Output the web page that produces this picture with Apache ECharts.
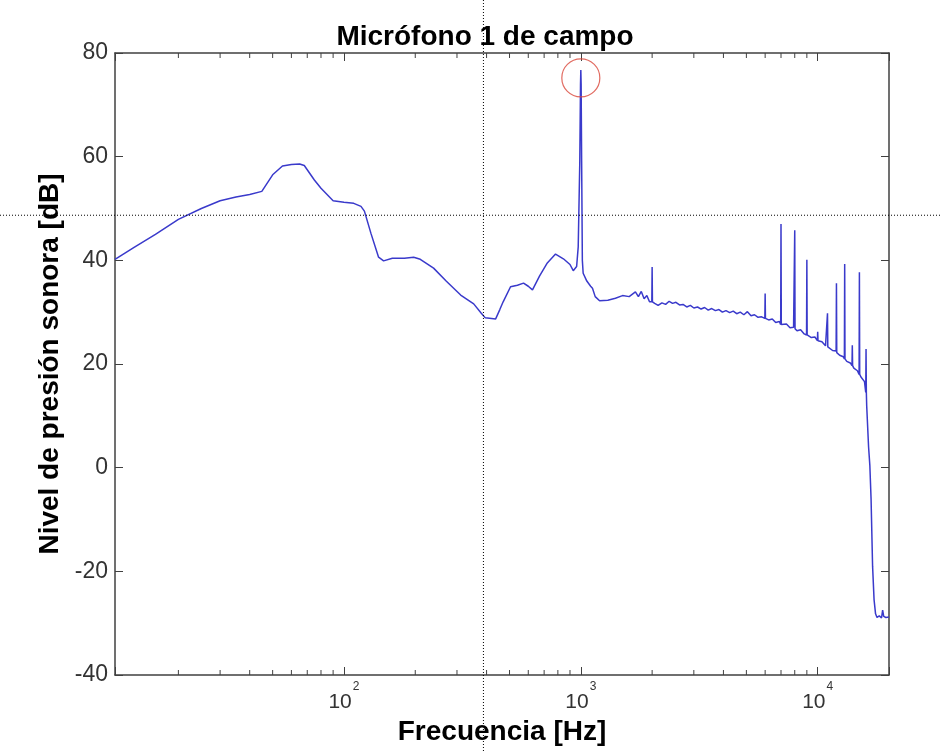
<!DOCTYPE html>
<html lang="es">
<head>
    <meta charset="UTF-8">
    <script src="https://cdn.jsdelivr.net/npm/echarts@6/dist/echarts.min.js"></script>
    <style>html,body{margin:0;padding:0;background:#fff;}</style>
</head>
<body>
<div id="main" style="width:940px;height:751px;"></div>
<script type="text/javascript">
    // espectro de banda ancha, 10 Hz - 1 kHz (incluye el tono de 1 kHz)
    var lowHz = [10.8, 13, 16, 20, 25, 30, 35, 40, 45, 50, 55, 60, 65, 68, 75, 80, 90, 100, 110, 118, 122, 130, 140, 147, 160, 180, 197, 210,
                 239, 270, 311, 353, 380, 395, 437, 455, 470, 505, 540, 573, 600, 625, 670, 722, 782, 844, 900, 929, 960, 975,
                 990, 997, 1000, 1003, 1008, 1015, 1023];
    var lowDb = [40.2, 42.5, 45.0, 47.9, 50.0, 51.5, 52.2, 52.7, 53.3, 56.5, 58.2, 58.5, 58.6, 58.3, 55.5, 53.9, 51.5, 51.2, 51.0, 50.4, 49.5, 45.2, 40.6, 39.9, 40.4, 40.4, 40.6, 40.2,
                 38.5, 36.0, 33.3, 31.6, 29.8, 28.9, 28.7, 30.5, 32.0, 34.9, 35.2, 35.6, 35.0, 34.3, 37.0, 39.5, 41.2, 40.3, 39.2, 38.0, 38.8, 42.6,
                 59.0, 74.0, 76.7, 74.0, 59.0, 40.0, 37.5];
    // zona ruidosa 1 kHz - 16 kHz
    var midHz = [1060, 1100, 1120, 1150, 1200, 1300, 1400, 1500, 1600, 1700, 1750, 1800, 1850, 1900, 1950,
                 2050, 2120, 2200, 2280, 2360, 2440, 2520, 2610, 2700, 2800, 2900, 3000, 3110, 3220, 3330, 3450, 3570, 3700, 3830, 3960,
                 4100, 4250, 4400, 4550, 4710, 4880, 5050, 5230, 5410, 5600, 5800, 6210, 6430, 6650, 6890, 7130, 7380, 7640, 7910,
                 8180, 8470, 8770, 9080, 9400, 9730, 10070, 10420, 10790, 11170, 11560, 11960, 12380, 12820, 13270, 13730, 14210, 14710, 15230, 15760];
    var midDb = [36.0, 35.0, 34.6, 33.0, 32.2, 32.3, 32.7, 33.2, 33.0, 33.9, 33.0, 34.0, 32.6, 33.2, 32.0,
                 31.7, 31.3, 31.8, 31.5, 32.1, 31.7, 31.9, 31.4, 31.5, 31.0, 31.3, 30.8, 31.0, 30.6, 30.9, 30.4, 30.7, 30.3, 30.5, 30.0,
                 30.3, 29.9, 30.2, 29.7, 30.0, 29.5, 30.1, 29.3, 29.5, 29.0, 29.1, 28.5, 28.7, 28.0, 28.2, 27.5, 27.7, 27.0, 27.1,
                 26.4, 26.6, 25.8, 25.8, 25.1, 25.2, 24.3, 24.3, 23.5, 23.2, 22.6, 22.5, 21.7, 21.4, 20.5, 20.2, 19.2, 18.7, 17.5, 16.6];
    // caida final
    var rollHz = [16100, 16400, 16600, 16800, 17050, 17300, 17550, 17800, 18200, 18600, 18800, 19000, 19400, 20000];
    var rollDb = [12.0, 4.0, 0.5, -6.0, -19.0, -25.5, -28.2, -28.9, -28.6, -29.0, -27.5, -28.7, -28.9, -28.8];
    // armonicos
    var toneHz = [2000, 6000, 7000, 8000, 9000, 10000, 11000, 12000, 13000, 14000, 15000, 16000];
    var tonePeakDb = [38.7, 33.6, 47.0, 45.8, 40.1, 26.2, 29.8, 35.6, 39.3, 23.6, 37.7, 22.9];
    var toneBaseDb = [32.0, 28.8, 27.6, 26.8, 25.6, 24.5, 23.3, 22.2, 21.0, 19.7, 18.0, 14.5];

    var minorTickHz = [20, 30, 40, 50, 60, 70, 80, 90, 200, 300, 400, 500, 600, 700, 800, 900, 2000, 3000, 4000, 5000, 6000, 7000, 8000, 9000];
    var peakMark = [[1000, 75.2]];
    var cursor = [[388, 48.7]];

    var pts = [];
    function addBand(hz, db) {
        for (var i = 0; i < hz.length; i++) pts.push([hz[i], db[i]]);
    }
    addBand(lowHz, lowDb);
    addBand(midHz, midDb);
    addBand(rollHz, rollDb);
    for (var i = 0; i < toneHz.length; i++) {
        pts.push([toneHz[i] * 0.997, toneBaseDb[i]]);
        pts.push([toneHz[i], tonePeakDb[i]]);
        pts.push([toneHz[i] * 1.003, toneBaseDb[i]]);
    }
    pts.sort(function (a, b) { return a[0] - b[0]; });

    var FONT = '"Liberation Sans", Arial, sans-serif';
    var AX = '#404040';

    function powLabel(v) {
        var e = Math.log(v) / Math.LN10;
        var r = Math.round(e);
        if (Math.abs(e - r) > 1e-6) return '';
        return '{b|10}{s|' + r + '}';
    }

    var chart = echarts.init(document.getElementById('main'));
    var option = {
        animation: false,
        backgroundColor: '#fff',
        title: {
            text: 'Micrófono 1 de campo',
            left: 480, top: 18, textAlign: 'center',
            textStyle: {fontFamily: FONT, fontSize: 28, fontWeight: 'bold', color: '#000'}
        },
        grid: {left: 115, right: 51, top: 53, bottom: 76},
        xAxis: [{
            type: 'log', min: 10.8, max: 20000,
            name: 'Frecuencia [Hz]', nameLocation: 'middle', nameGap: 43,
            nameTextStyle: {fontFamily: FONT, fontSize: 28, fontWeight: 'bold', color: '#000'},
            axisLine: {onZero: false, lineStyle: {color: AX, width: 1.5}},
            axisTick: {inside: true, length: 8, lineStyle: {color: AX, width: 1}},
            splitLine: {show: false},
            axisLabel: {
                margin: 6, formatter: powLabel,
                rich: {
                    b: {fontFamily: FONT, fontSize: 21, color: '#333', lineHeight: 32, verticalAlign: 'bottom'},
                    s: {fontFamily: FONT, fontSize: 12, color: '#333', verticalAlign: 'top', padding: [0, 0, 0, 1]}
                }
            }
        }, {
            type: 'log', min: 10.8, max: 20000, position: 'top',
            axisLine: {onZero: false, lineStyle: {color: AX, width: 1.5}},
            axisTick: {inside: true, length: 8, lineStyle: {color: AX, width: 1}},
            axisLabel: {show: false}, splitLine: {show: false}
        }],
        yAxis: [{
            type: 'value', min: -40, max: 80, interval: 20,
            name: 'Nivel de presión sonora [dB]', nameLocation: 'middle', nameGap: 41,
            nameTextStyle: {fontFamily: FONT, fontSize: 28, fontWeight: 'bold', color: '#000'},
            axisLine: {show: true, lineStyle: {color: AX, width: 1.5}},
            axisTick: {show: true, inside: true, length: 8, lineStyle: {color: AX}},
            axisLabel: {margin: 7, fontFamily: FONT, fontSize: 23, color: '#333'},
            splitLine: {show: false}
        }, {
            type: 'value', min: -40, max: 80, interval: 20, position: 'right',
            axisLine: {show: true, lineStyle: {color: AX, width: 1.5}},
            axisTick: {show: true, inside: true, length: 8, lineStyle: {color: AX}},
            axisLabel: {show: false}, splitLine: {show: false}
        }],
        series: [{
            type: 'line', data: pts, showSymbol: false, symbol: 'none',
            lineStyle: {color: '#3a3acb', width: 1.5}, z: 3
        }, {
            type: 'custom', data: minorTickHz.map(function (f) { return [f, -40]; }),
            z: 4,
            renderItem: function (params, api) {
                var b = api.coord([api.value(0), -40]);
                var t = api.coord([api.value(0), 80]);
                var st = {stroke: AX, lineWidth: 1};
                return {type: 'group', children: [
                    {type: 'line', shape: {x1: b[0], y1: b[1], x2: b[0], y2: b[1] - 5}, style: st},
                    {type: 'line', shape: {x1: t[0], y1: t[1], x2: t[0], y2: t[1] + 5}, style: st}
                ]};
            }
        }, {
            type: 'scatter', data: peakMark, symbol: 'circle', symbolSize: 38, silent: true, z: 5,
            itemStyle: {color: 'rgba(0,0,0,0)', borderColor: '#d9463a', borderWidth: 1.2}
        }, {
            type: 'custom', data: cursor, silent: true, clip: false, z: 6,
            renderItem: function (params, api) {
                var p = api.coord([api.value(0), api.value(1)]);
                var st = {stroke: '#000', lineWidth: 1, lineDash: [1, 2]};
                return {type: 'group', children: [
                    {type: 'line', shape: {x1: 0, y1: p[1], x2: api.getWidth(), y2: p[1]}, style: st},
                    {type: 'line', shape: {x1: p[0], y1: 0, x2: p[0], y2: api.getHeight()}, style: st}
                ]};
            }
        }]
    };
    chart.setOption(option);
</script>
</body>
</html>
